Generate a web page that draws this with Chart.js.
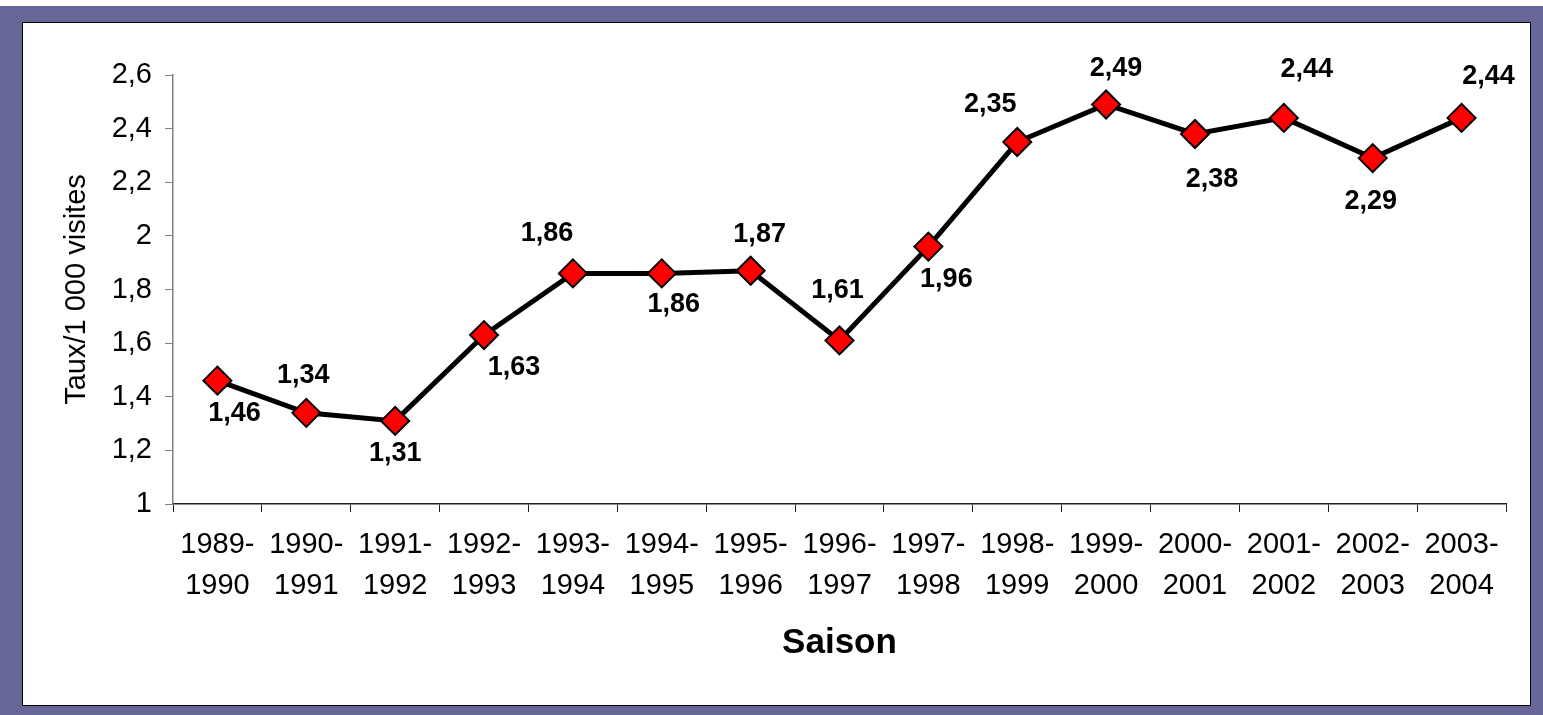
<!DOCTYPE html>
<html lang="fr">
<head>
<meta charset="utf-8">
<title>Taux/1 000 visites par saison</title>
<script src="https://cdn.jsdelivr.net/npm/chart.js@4.4.1/dist/chart.umd.min.js"></script>
<style>
    html, body { margin: 0; padding: 0; background: #ffffff; }
    #page { position: relative; width: 1543px; height: 715px; overflow: hidden; }
    #frame { position: absolute; left: 0; top: 6px; width: 1543px; height: 709px; background: #666699; }
    #panel { position: absolute; left: 22px; top: 22px; width: 1507px; height: 682px; background: #ffffff; border: 1px solid #000000; }
    #chart { position: absolute; left: 0; top: 0; }
</style>
</head>
<body>
<div id="page">
    <div id="frame"></div>
    <div id="panel"></div>
    <canvas id="chart" width="1543" height="715"></canvas>
</div>
<script>
// --- Données ---
const seasons = [
    ['1989-', '1990'], ['1990-', '1991'], ['1991-', '1992'], ['1992-', '1993'],
    ['1993-', '1994'], ['1994-', '1995'], ['1995-', '1996'], ['1996-', '1997'],
    ['1997-', '1998'], ['1998-', '1999'], ['1999-', '2000'], ['2000-', '2001'],
    ['2001-', '2002'], ['2002-', '2003'], ['2003-', '2004']
];
const rates = [1.46, 1.34, 1.31, 1.63, 1.86, 1.86, 1.87, 1.61, 1.96, 2.35, 2.49, 2.38, 2.44, 2.29, 2.44];
const yTicks = [1, 1.2, 1.4, 1.6, 1.8, 2, 2.2, 2.4, 2.6];

// placement des étiquettes de valeur (décalage par rapport au point)
const labelOffsets = [
    [17, 33], [-3, -37], [0, 33], [30, 32], [-26, -40], [12, 31], [9, -36], [-2, -50],
    [18, 33], [-27, -37], [10, -36], [17, 46], [23, -48], [-2, 43], [27, -41]
];

const FONT = "'Liberation Sans', Arial, sans-serif";
Chart.defaults.font.family = FONT;
Chart.defaults.color = '#000000';

const frNumber = (v, digits) => Number(v.toFixed(digits)).toString().replace('.', ',');

// Étiquettes de valeur dessinées à côté de chaque losange
const pointLabels = {
    id: 'pointLabels',
    afterDatasetsDraw(chart) {
        const { ctx } = chart;
        const meta = chart.getDatasetMeta(0);
        ctx.save();
        ctx.font = `bold 27px ${FONT}`;
        ctx.fillStyle = '#000000';
        ctx.textAlign = 'center';
        ctx.textBaseline = 'middle';
        meta.data.forEach((pt, i) => {
            const [dx, dy] = labelOffsets[i];
            ctx.fillText(rates[i].toFixed(2).replace('.', ','), pt.x + dx, pt.y + dy);
        });
        ctx.restore();
    }
};

new Chart(document.getElementById('chart'), {
    type: 'line',
    data: {
        labels: seasons,
        datasets: [{
            data: rates,
            borderColor: '#000000',
            borderWidth: 5,
            tension: 0,
            pointStyle: 'rectRot',
            pointRadius: 14,
            pointHoverRadius: 14,
            pointBackgroundColor: '#ff0000',
            pointBorderColor: '#000000',
            pointBorderWidth: 2
        }]
    },
    options: {
        responsive: false,
        animation: false,
        layout: { padding: { left: 0, top: 75, right: 37, bottom: 51 } },
        plugins: {
            legend: { display: false },
            tooltip: { enabled: false }
        },
        scales: {
            x: {
                offset: true,
                grid: { offset: true, drawOnChartArea: false, drawTicks: true, tickLength: 8, color: '#222222' },
                border: { color: '#222222', width: 1.5 },
                ticks: {
                    font: { size: 29, lineHeight: 1.42 },
                    color: '#000000',
                    padding: 12,
                    maxRotation: 0,
                    autoSkip: false
                },
                title: {
                    display: true,
                    text: 'Saison',
                    font: { size: 35, weight: 'bold', lineHeight: 1.2 },
                    color: '#000000',
                    padding: { top: 0, bottom: 0 }
                },
                afterFit: (scale) => { scale.height = 160; }
            },
            y: {
                min: yTicks[0],
                max: yTicks[yTicks.length - 1],
                afterBuildTicks: (scale) => { scale.ticks = yTicks.map(v => ({ value: v })); },
                grid: { drawOnChartArea: false, drawTicks: true, tickLength: 8, color: '#808080' },
                border: { color: '#808080', width: 1.5 },
                ticks: {
                    font: { size: 29 },
                    color: '#000000',
                    padding: 13,
                    callback: (v) => frNumber(v, 1)
                },
                title: {
                    display: true,
                    text: 'Taux/1 000 visites',
                    font: { size: 29, lineHeight: 1.2 },
                    color: '#000000',
                    padding: { top: 60, bottom: 0 }
                },
                afterFit: (scale) => { scale.width = 173; }
            }
        }
    },
    plugins: [pointLabels]
});
</script>
</body>
</html>
